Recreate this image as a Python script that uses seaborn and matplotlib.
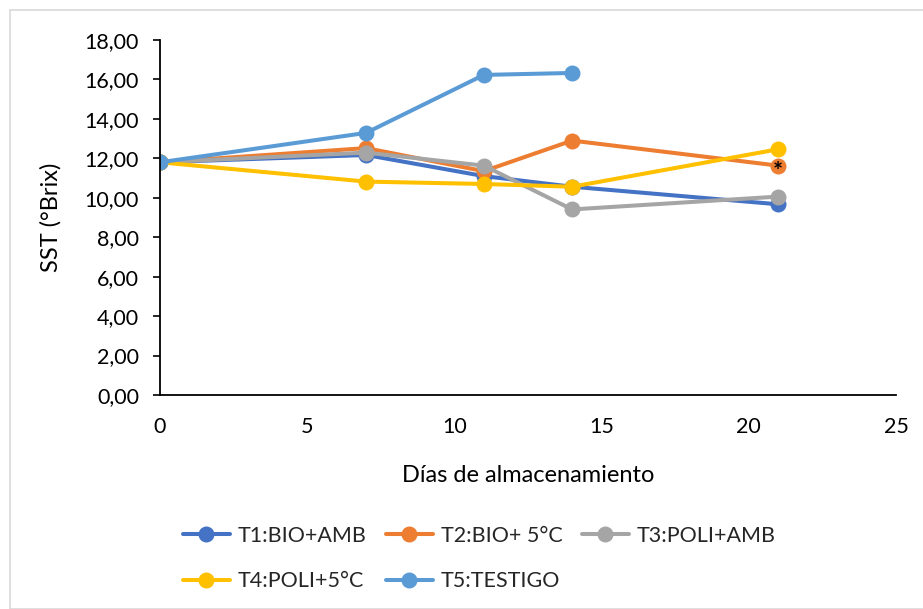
import numpy as np
import pandas as pd
import matplotlib
matplotlib.use("Agg")
import matplotlib.pyplot as plt
import seaborn as sns
from matplotlib.patches import Rectangle

# Storage days and soluble solids (°Brix) per treatment
dias = [0, 7, 11, 14, 21]
t1_bio_amb = [11.80, 12.17, 11.10, 10.56, 9.67]
t2_bio_5c = [11.80, 12.52, 11.35, 12.90, 11.63]
t3_poli_amb = [11.80, 12.29, 11.63, 9.41, 10.06]
t4_poli_5c = [11.80, 10.82, 10.70, 10.56, 12.46]
t5_testigo = [11.80, 13.29, 16.23, 16.33]
tratamientos = ["T1:BIO+AMB", "T2:BIO+ 5°C", "T3:POLI+AMB", "T4:POLI+5°C", "T5:TESTIGO"]
colores = ["#4472C4", "#ED7D31", "#A5A5A5", "#FFC000", "#5B9BD5"]
x_ticks = [0, 5, 10, 15, 20, 25]
y_ticks = [0, 2, 4, 6, 8, 10, 12, 14, 16, 18]

series = [t1_bio_amb, t2_bio_5c, t3_poli_amb, t4_poli_5c, t5_testigo]
rows = []
for name, vals in zip(tratamientos, series):
    for d, v in zip(dias, vals):
        rows.append({"Días": d, "SST": v, "Tratamiento": name})
df = pd.DataFrame(rows)

sns.set_theme(style="white")
plt.rcParams["font.family"] = ["Lato", "DejaVu Sans"]

fig = plt.figure(figsize=(9.23, 6.09), dpi=100)
ax = fig.add_axes([0.1733, 0.3514, 0.7974, 0.5829])

sns.lineplot(
    data=df, x="Días", y="SST", hue="Tratamiento", hue_order=tratamientos,
    palette=colores, marker="o", markersize=11.5, markeredgewidth=0,
    linewidth=2.9, ax=ax, legend=True, sort=False,
)

# asterisk on the T2 day-21 point
ax.annotate("*", xy=(dias[4], t2_bio_5c[4]), xytext=(0, -5),
            textcoords="offset points", ha="center", va="center",
            fontsize=17, color="black", fontweight="bold")

ax.set_xlim(0, 25)
ax.set_ylim(0, 18)
ax.set_xticks(x_ticks)
ax.set_yticks(y_ticks)
ax.set_yticklabels([f"{v:.2f}".replace(".", ",") for v in y_ticks])
ax.set_xticklabels([str(v) for v in x_ticks])
ax.tick_params(axis="y", direction="out", length=5, width=1.2, color="black",
               labelsize=15.5, pad=10, left=True)
ax.tick_params(axis="x", length=0, labelsize=15.5, pad=16)
for lab in ax.get_xticklabels() + ax.get_yticklabels():
    lab.set_color("#000000")

for s in ["top", "right"]:
    ax.spines[s].set_visible(False)
for s in ["left", "bottom"]:
    ax.spines[s].set_color("black")
    ax.spines[s].set_linewidth(1.3)

ax.set_xlabel("Días de almacenamiento", fontsize=17, color="black")
ax.set_ylabel("SST (°Brix)", fontsize=17, color="black")
ax.xaxis.set_label_coords(0.5, -0.197)
ax.yaxis.set_label_coords(-0.133, 0.5)
ax.set_facecolor("white")

handles, labels = ax.get_legend_handles_labels()
ax.get_legend().remove()
# column-major fill: reorder so rows read T1 T2 T3 / T4 T5
order = [0, 3, 1, 4, 2]
fig.legend([handles[i] for i in order], [labels[i] for i in order],
           ncol=3, loc="center",
           bbox_to_anchor=(0.519, 0.083), frameon=False, fontsize=15.5,
           handlelength=2.2, columnspacing=0.9, handletextpad=0.35,
           labelspacing=1.2, markerscale=1.0)

# light frame around the chart area
fig.patches.append(Rectangle((10 / 923, 0), 1.0, 1 - 10 / 609,
                             transform=fig.transFigure, fill=False,
                             edgecolor="#D9D9D9", linewidth=1.2))

fig.savefig("out.png", dpi=100, facecolor="white")
